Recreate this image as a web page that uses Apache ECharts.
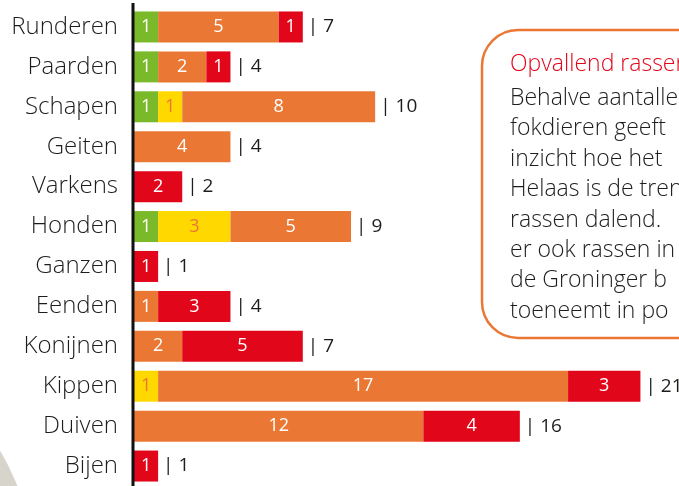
<!DOCTYPE html>
<html>
<head>
<meta charset="utf-8">
<script src="https://cdn.jsdelivr.net/npm/echarts@6/dist/echarts.min.js"></script>
<style>
  html, body { margin: 0; padding: 0; background: #fff; }
  #chart { width: 679px; height: 486px; }
</style>
</head>
<body>
<div id="chart"></div>
<script>
"use strict";
// soorten, van boven naar beneden
const categories = ["Runderen", "Paarden", "Schapen", "Geiten", "Varkens", "Honden", "Ganzen", "Eenden", "Konijnen", "Kippen", "Duiven", "Bijen"];
const groen  = [1, 1, 1, 0, 0, 1, 0, 0, 0, 0, 0, 0];
const geel   = [0, 0, 1, 0, 0, 3, 0, 0, 0, 1, 0, 0];
const oranje = [5, 2, 8, 4, 0, 5, 0, 1, 2, 17, 12, 0];
const rood   = [1, 1, 0, 0, 2, 0, 1, 3, 5, 3, 4, 1];
const totalen = categories.map((_, i) => groen[i] + geel[i] + oranje[i] + rood[i]);

const kaderTitel = "Opvallend rassen";
const kaderTekst = [
    "Behalve aantallen",
    "fokdieren geeft",
    "inzicht hoe het",
    "Helaas is de trend",
    "rassen dalend.",
    "er ook rassen in",
    "de Groninger b",
    "toeneemt in po",
];

const FONT = "'Open Sans', sans-serif";
const kleuren = { groen: "#7ab929", geel: "#ffd800", oranje: "#ea7834", rood: "#e2061a" };

const chart = echarts.init(document.getElementById("chart"), null, { renderer: "canvas" });

const segment = (name, data, color, labelColor) => ({
    name,
    type: "bar",
    stack: "totaal",
    data,
    barWidth: 31,
    itemStyle: { color },
    label: {
        show: true,
        position: "inside",
        color: labelColor,
        fontFamily: FONT,
        fontSize: 18,
        formatter: (p) => (p.value ? String(p.value) : ""),
    },
    silent: true,
});

const tekstregels = kaderTekst.map((t, i) => ({
    type: "text",
    left: 510,
    top: 87 + i * 30.4,
    style: { text: t, fill: "#1d1d1b", font: "300 23px " + FONT },
}));

chart.setOption({
    animation: false,
    grid: { left: 134, right: 0, top: 7, bottom: -2, containLabel: false },
    xAxis: {
        type: "value",
        min: 0,
        max: 22.6,
        show: false,
    },
    yAxis: {
        type: "category",
        data: categories,
        inverse: true,
        axisLine: { show: false },
        axisTick: { show: false },
        axisLabel: { color: "#1d1d1b", fontFamily: FONT, fontWeight: 300, fontSize: 24, margin: 16 },
    },
    series: [
        segment("groen", groen, kleuren.groen, "#ffffff"),
        segment("geel", geel, kleuren.geel, kleuren.oranje),
        segment("oranje", oranje, kleuren.oranje, "#ffffff"),
        segment("rood", rood, kleuren.rood, "#ffffff"),
        {
            name: "totaal",
            type: "bar",
            data: totalen,
            barWidth: 31,
            barGap: "-100%",
            z: 1,
            itemStyle: { color: "rgba(0,0,0,0)" },
            label: {
                show: true,
                position: "right",
                distance: 5,
                color: "#1d1d1b",
                fontFamily: FONT,
                fontSize: 19,
                formatter: "| {c}",
            },
            silent: true,
        },
    ],
    graphic: [
        {
            type: "circle",
            z: -10,
            shape: { cx: -200, cy: 570, r: 233 },
            style: { fill: "#d7d4cc" },
        },
        {
            type: "line",
            z: 10,
            shape: { x1: 133, y1: 3, x2: 133, y2: 486 },
            style: { stroke: "#111", lineWidth: 3 },
        },
        {
            type: "rect",
            shape: { x: 482, y: 30, width: 260, height: 308, r: 36 },
            style: { fill: "#fff", stroke: kleuren.oranje, lineWidth: 2.5 },
        },
        {
            type: "text",
            left: 510,
            top: 53,
            style: { text: kaderTitel, fill: kleuren.rood, font: "300 23px " + FONT },
        },
        ...tekstregels,
    ],
});
</script>
</body>
</html>
